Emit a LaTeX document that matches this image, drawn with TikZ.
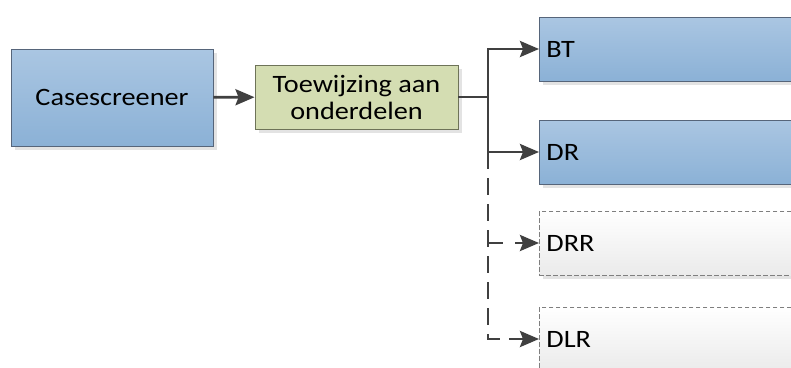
\documentclass[tikz,border=0pt]{standalone}
\usepackage{fontspec}
\setmainfont{Carlito}[FakeStretch=1.13]
\usetikzlibrary{arrows.meta,shadows}
\definecolor{bluetop}{HTML}{AAC6E2}
\definecolor{bluebot}{HTML}{8BB1D6}
\definecolor{boxline}{HTML}{56657A}
\definecolor{greenfill}{HTML}{D4DDB2}
\definecolor{greenline}{HTML}{6E7358}
\definecolor{conncol}{HTML}{404040}
\definecolor{dashline}{HTML}{7F7F7F}
\begin{document}
\begin{tikzpicture}[x=1pt,y=-1pt,
  txt/.style={font=\fontsize{25}{27}\selectfont, text=black, inner sep=0pt},
  shad/.style={drop shadow={shadow xshift=4pt,shadow yshift=-4pt,fill=black!11,opacity=1}},
  bluebox/.style={txt, shad, draw=boxline, line width=0.9pt, top color=bluetop, bottom color=bluebot},
  greenbox/.style={txt, shad, draw=greenline, line width=0.9pt, fill=greenfill, align=center},
  dashbox/.style={txt, shad, draw=dashline, line width=0.8pt, dash pattern=on 4.5pt off 2.5pt, top color=white, bottom color=black!8},
  rightbox/.style={anchor=west, minimum width=290pt, minimum height=64pt, text width=276pt, inner xsep=7pt, align=left},
  conn/.style={draw=conncol, line width=2.9pt, -{Stealth[length=19pt,width=16pt,inset=3pt]}},
  trunk/.style={draw=conncol, line width=2.9pt},
  dashconn/.style={dash pattern=on 17pt off 9pt}
]
\clip (0,0) rectangle (791,367);
\fill[white] (0,0) rectangle (791,367);
\node[bluebox, minimum width=202pt, minimum height=97pt] (cs) at (112,97.5) {Casescreener};
\node[greenbox, minimum width=203pt, minimum height=64pt] (tw) at (356.5,97) {Toewijzing aan\\onderdelen};
\node[bluebox, rightbox] (bt) at (539,49) {BT};
\node[bluebox, rightbox] (dr) at (539,152) {DR};
\node[dashbox, rightbox] (drr) at (539,243) {DRR};
\node[dashbox, rightbox] (dlr) at (539,339) {DLR};
\coordinate (fork) at (488,97);
\draw[conn] (cs) -- (tw);
\draw[trunk] (tw.east) -- (fork);
\draw[conn] (fork) |- (bt.west);
\draw[conn] (fork) |- (dr.west);
\draw[conn, dashconn] (fork |- dr.west) |- (dlr.west);
\draw[conn, dashconn, dash pattern=on 15pt off 12pt] (fork |- drr.west) -- (drr.west);
\end{tikzpicture}
\end{document}
